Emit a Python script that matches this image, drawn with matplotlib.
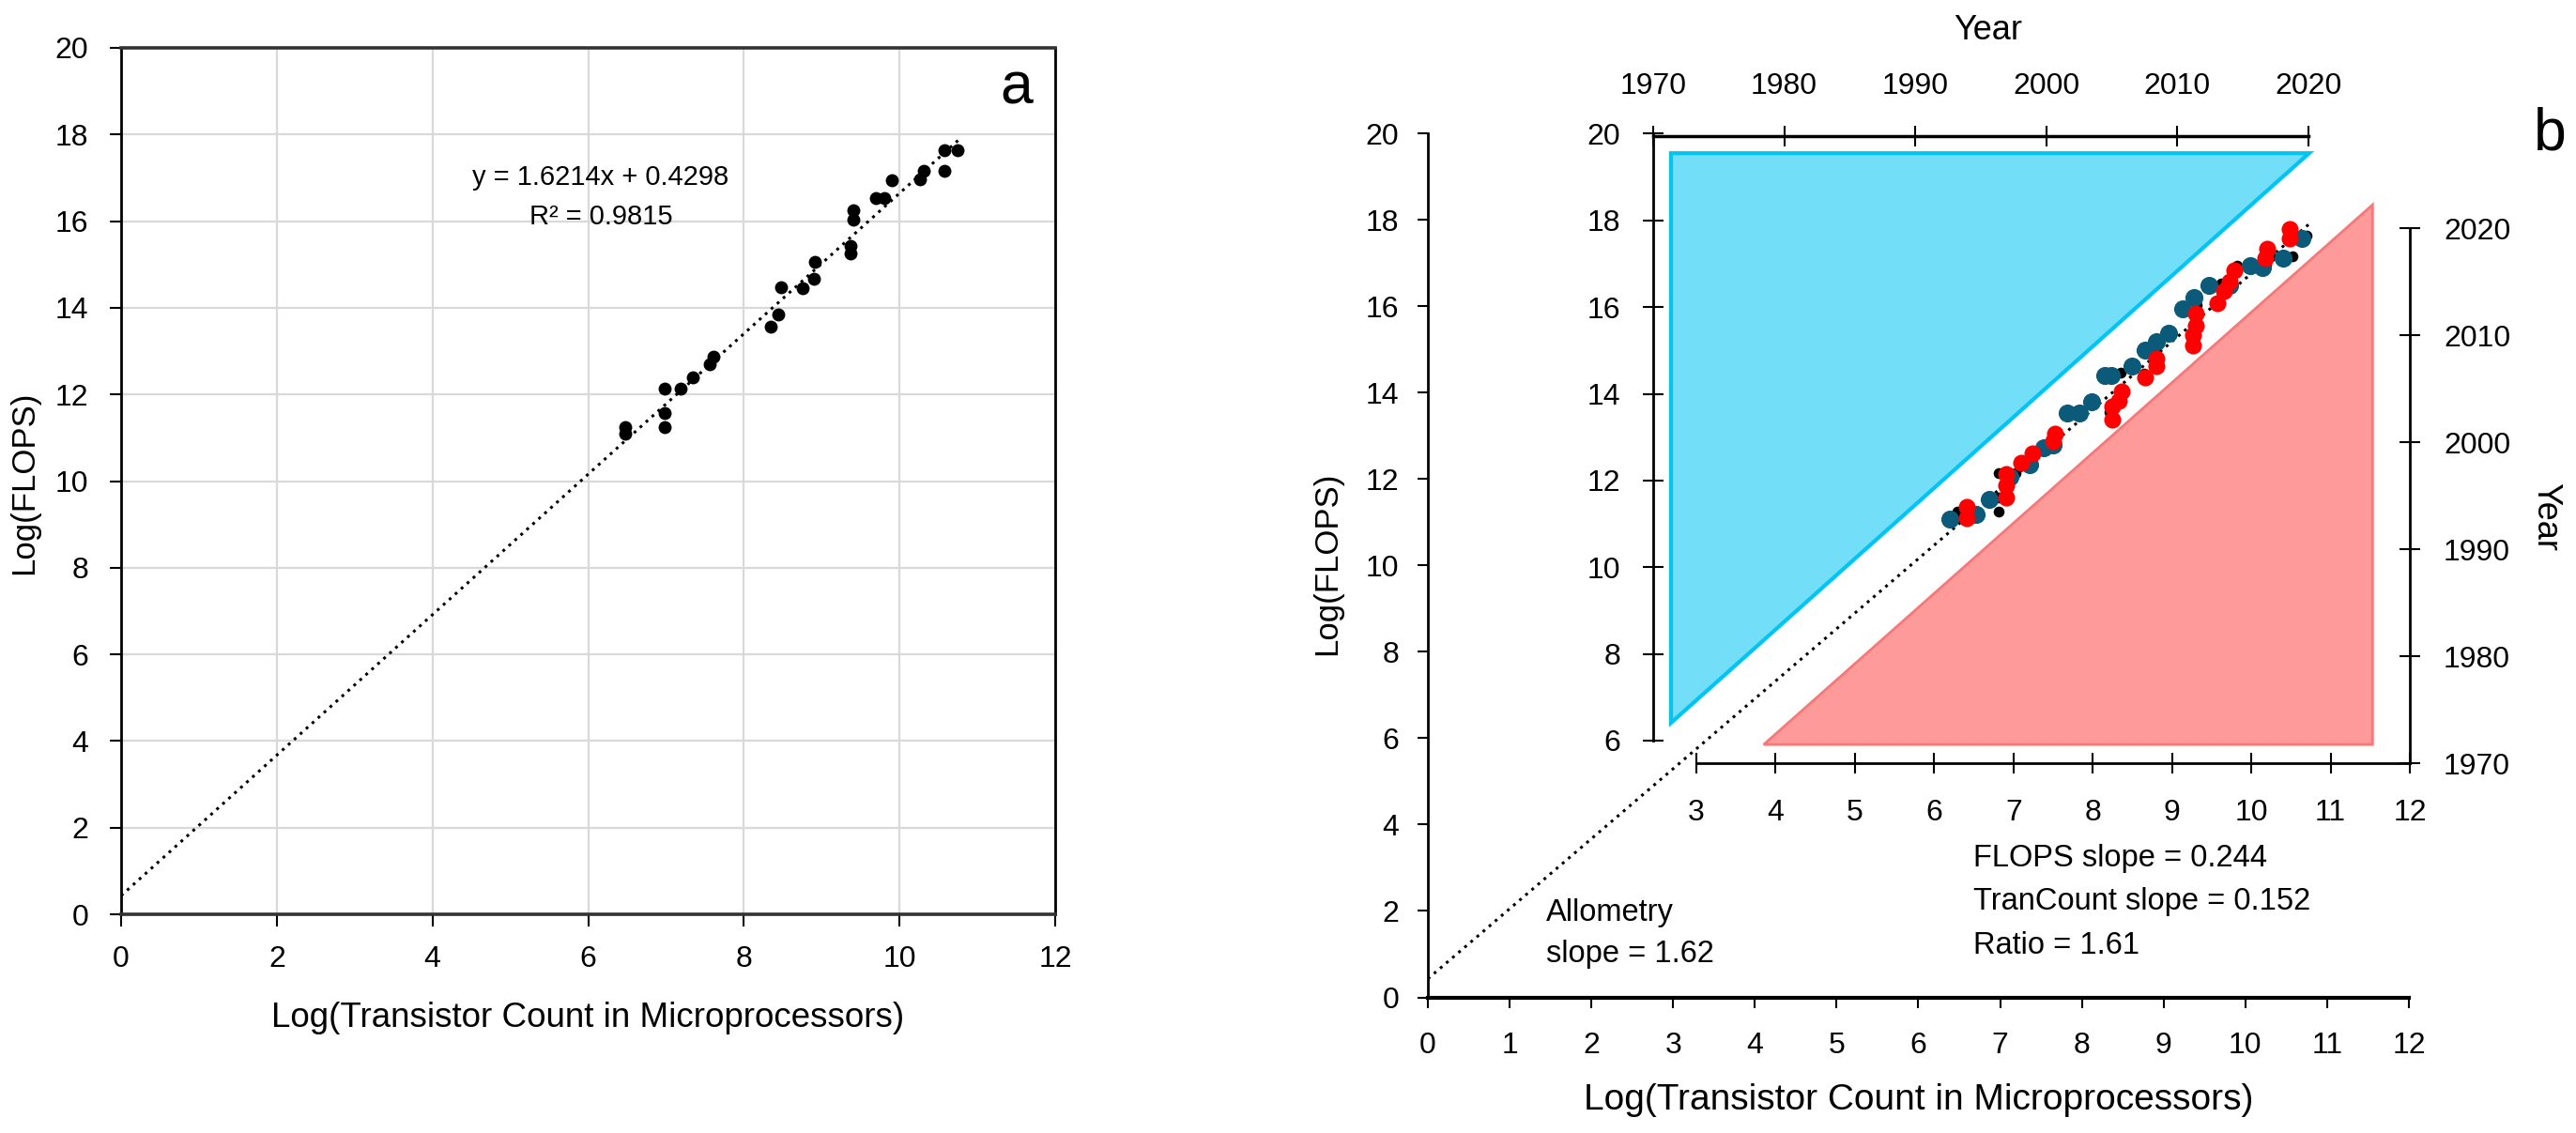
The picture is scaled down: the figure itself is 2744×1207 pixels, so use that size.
"""Allometry of FLOPS vs transistor count: panel a (fit) and panel b (with year inset)."""

import matplotlib
matplotlib.use('Agg')
import matplotlib.pyplot as plt
from matplotlib import font_manager
from matplotlib.patches import Polygon
import numpy as np

# ---- data -----------------------------------------------------------------
# panel a / black points of panel b: log(transistor count), log(FLOPS)
transistor_log = [6.48, 6.48, 6.98, 6.98, 6.98, 7.19, 7.34, 7.56, 7.61, 8.34,
                  8.44, 8.48, 8.76, 8.90, 8.91, 9.37, 9.37, 9.41, 9.41, 9.70,
                  9.81, 9.90, 10.26, 10.31, 10.58, 10.58, 10.75]
flops_log = [11.25, 11.10, 12.13, 11.58, 11.25, 12.13, 12.40, 12.70, 12.88, 13.56,
             13.85, 14.47, 14.45, 14.68, 15.05, 15.26, 15.42, 16.04, 16.25, 16.54,
             16.54, 16.95, 16.97, 17.16, 17.17, 17.64, 17.64]

fit_slope = 1.6214
fit_intercept = 0.4298
fit_x_end = 10.8

# panel b inset, teal series (inset axis units)
teal_x = [6.20, 6.53, 6.69, 6.95, 7.20, 7.38, 7.50, 7.68, 7.83, 7.99, 8.15, 8.23,
          8.49, 8.66, 8.80, 8.96, 9.14, 9.28, 9.47, 9.73, 9.99, 10.14, 10.40, 10.64]
teal_y = [11.10, 11.21, 11.57, 12.08, 12.36, 12.76, 12.83, 13.55, 13.55, 13.81, 14.42, 14.42,
          14.64, 15.00, 15.21, 15.39, 15.97, 16.22, 16.51, 16.51, 16.95, 16.91, 17.13, 17.59]

# panel b inset, red series (inset axis units)
red_x = [6.41, 6.41, 6.91, 6.91, 6.91, 7.10, 7.24, 7.50, 7.52, 8.25, 8.25, 8.33, 8.37,
         8.66, 8.80, 8.80, 9.26, 9.26, 9.30, 9.30, 9.57, 9.65, 9.73, 9.79, 10.18, 10.20,
         10.48, 10.48]
red_y = [11.39, 11.14, 12.15, 11.89, 11.61, 12.40, 12.62, 12.90, 13.08, 13.41, 13.70, 13.84,
         14.06, 14.38, 14.64, 14.82, 15.11, 15.36, 15.57, 15.86, 16.08, 16.37, 16.58, 16.84,
         17.13, 17.34, 17.59, 17.81]

# shaded triangles in the inset (inset axis units)
blue_tri = [(2.68, 19.55), (10.73, 19.55), (2.68, 6.41)]
red_tri = [(11.53, 18.36), (3.85, 5.91), (11.53, 5.91)]

years = [1970, 1980, 1990, 2000, 2010, 2020]

# ---- fonts ------------------------------------------------------------------
def pick_font(names):
    for n in names:
        try:
            font_manager.findfont(font_manager.FontProperties(family=n),
                                  fallback_to_default=False)
            return n
        except ValueError:
            continue
    return 'DejaVu Sans'


FONT = pick_font(['Liberation Sans', 'DejaVu Sans'])
plt.rcParams['font.family'] = [FONT, 'DejaVu Sans']

W, H = 2744, 1207
fig = plt.figure(figsize=(W / 100, H / 100), dpi=100)


def box(x0, y0, x1, y1):
    # pixel box (top-left origin) -> figure fraction rect
    return [x0 / W, 1 - y1 / H, (x1 - x0) / W, (y1 - y0) / H]


def fx(px):
    return px / W


def fy(py):
    return 1 - py / H


TICK = 23
dotted = (0, (1, 1.8))

# ---- panel a ----------------------------------------------------------------
ax_a = fig.add_axes(box(129, 51, 1124, 974))
ax_a.set_xlim(0, 12)
ax_a.set_ylim(0, 20)
ax_a.set_xticks(range(0, 13, 2))
ax_a.set_yticks(range(0, 21, 2))
ax_a.grid(True, color='#d9d9d9', lw=1.6)
ax_a.set_axisbelow(True)
for s in ax_a.spines.values():
    s.set_color('black')
    s.set_linewidth(2)
ax_a.spines['top'].set_color('#333333')
ax_a.spines['top'].set_linewidth(2.6)
ax_a.spines['bottom'].set_color('#333333')
ax_a.spines['bottom'].set_linewidth(2.6)
ax_a.tick_params(direction='out', length=9, width=1.5, labelsize=TICK)
ax_a.tick_params(axis='x', pad=15)
ax_a.tick_params(axis='y', pad=16)

fx_line = np.array([0, fit_x_end])
ax_a.plot(fx_line, fit_slope * fx_line + fit_intercept, color='black', lw=2.2,
          ls=dotted, zorder=2)
ax_a.scatter(transistor_log, flops_log, s=100, color='black', zorder=3, lw=0)

fig.text(fx(640), fy(189), f'y = {fit_slope}x + {fit_intercept}', fontsize=21,
         ha='center', va='center')
fig.text(fx(640), fy(231), 'R² = 0.9815', fontsize=21, ha='center', va='center')
fig.text(fx(1083), fy(94), 'a', fontsize=45, ha='center', va='center')
fig.text(fx(626), fy(1085), 'Log(Transistor Count in Microprocessors)', fontsize=26.5,
         ha='center', va='center')
fig.text(fx(26), fy(514), 'Log(FLOPS)', fontsize=25, rotation=90,
         ha='center', va='center')

# ---- panel b: outer axes ----------------------------------------------------
ax_b = fig.add_axes(box(1521, 142.4, 2566, 1062.5))
ax_b.set_xlim(0, 12)
ax_b.set_ylim(0, 20)
ax_b.set_xticks(range(0, 13))
ax_b.set_yticks(range(0, 21, 2))
ax_b.spines['top'].set_visible(False)
ax_b.spines['right'].set_visible(False)
ax_b.spines['left'].set_linewidth(2)
ax_b.spines['bottom'].set_linewidth(3)
ax_b.tick_params(direction='out', length=8, width=1.5, labelsize=TICK)
ax_b.tick_params(axis='x', pad=18)
ax_b.tick_params(axis='y', pad=14)
ax_b.plot(fx_line, fit_slope * fx_line + fit_intercept, color='black', lw=2.2,
          ls=dotted, zorder=2)
ax_b.scatter(transistor_log, flops_log, s=70, color='black', zorder=3, lw=0)

# ---- panel b: inset ----------------------------------------------------------
ax_in = fig.add_axes(box(1807, 142.4, 2567, 789))
ax_in.patch.set_visible(False)
ax_in.set_xlim(3, 12)
ax_in.set_ylim(6, 20)
ax_in.set_xticks(range(3, 13))
ax_in.set_yticks(range(6, 21, 2))
ax_in.spines['top'].set_visible(False)
ax_in.spines['right'].set_visible(False)
ax_in.spines['left'].set_position(('outward', 33))
ax_in.spines['bottom'].set_position(('outward', 17.5))
ax_in.spines['left'].set_linewidth(2)
ax_in.spines['bottom'].set_linewidth(2)
ax_in.tick_params(direction='inout', length=16, width=1.5, labelsize=TICK)
ax_in.tick_params(axis='x', pad=19)
ax_in.tick_params(axis='y', pad=17)

ax_in.add_patch(Polygon(blue_tri, closed=True, facecolor='#72def8', edgecolor='#00c4f2',
                        lw=3, clip_on=False, zorder=1))
ax_in.add_patch(Polygon(red_tri, closed=True, facecolor='#ff9a9a', edgecolor='#f77878',
                        lw=2, clip_on=False, zorder=1))
ax_in.scatter(teal_x, teal_y, s=190, color='#0c5a7a', zorder=3, lw=0, clip_on=False)
ax_in.scatter(red_x, red_y, s=170, color='#ff0000', zorder=4, lw=0, clip_on=False)

# top year axis (its top spine sits on the inset's y = 20 level)
ax_top = fig.add_axes(box(1761, 145, 2459, 170))
ax_top.patch.set_visible(False)
for k in ['left', 'right', 'bottom']:
    ax_top.spines[k].set_visible(False)
ax_top.spines['top'].set_linewidth(2.5)
ax_top.set_xlim(years[0], years[-1])
ax_top.set_xticks(years)
ax_top.set_yticks([])
ax_top.xaxis.tick_top()
ax_top.tick_params(axis='x', direction='inout', length=16, width=1.5, labelsize=TICK,
                   pad=19)

# right year axis
ax_r = fig.add_axes(box(2540, 243.3, 2567, 813.3))
ax_r.patch.set_visible(False)
for k in ['left', 'top', 'bottom']:
    ax_r.spines[k].set_visible(False)
ax_r.spines['right'].set_linewidth(2)
ax_r.set_ylim(years[0], years[-1])
ax_r.set_yticks(years)
ax_r.set_xticks([])
ax_r.yaxis.tick_right()
ax_r.tick_params(axis='y', direction='inout', length=16, width=1.5, labelsize=TICK,
                 pad=18)

fig.text(fx(2118), fy(33), 'Year', fontsize=26, ha='center', va='center')
fig.text(fx(2712), fy(551), 'Year', fontsize=26, rotation=270, ha='center', va='center')
fig.text(fx(2716), fy(143), 'b', fontsize=45, ha='center', va='center')

fig.text(fx(2102), fy(915), 'FLOPS slope = 0.244', fontsize=23.5, ha='left', va='center')
fig.text(fx(2102), fy(960), 'TranCount slope = 0.152', fontsize=23.5, ha='left', va='center')
fig.text(fx(2102), fy(1007), 'Ratio = 1.61', fontsize=23.5, ha='left', va='center')
fig.text(fx(1647), fy(972), 'Allometry', fontsize=23.5, ha='left', va='center')
fig.text(fx(1647), fy(1017), 'slope = 1.62', fontsize=23.5, ha='left', va='center')

fig.text(fx(2044), fy(1172), 'Log(Transistor Count in Microprocessors)', fontsize=28,
         ha='center', va='center')
fig.text(fx(1414), fy(600), 'Log(FLOPS)', fontsize=25, rotation=90,
         ha='center', va='center')

fig.savefig('out.png', dpi=100)
